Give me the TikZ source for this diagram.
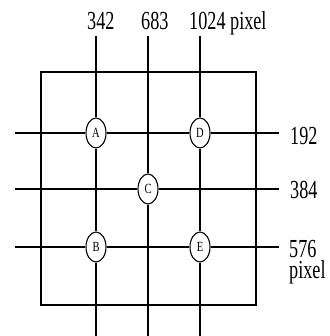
\documentclass[tikz,border=0pt]{standalone}
\usepackage{graphicx}
\usepackage{fontspec}
\setmainfont{Liberation Serif}
\usetikzlibrary{shapes.geometric}
\newcommand\condtxt[1]{\scalebox{0.7}[1]{#1}}
\tikzset{
  grid line/.style={line width=1.1pt, black},
  crossing/.style={draw, line width=1.1pt, ellipse, fill=white, inner sep=0pt,
    minimum width=20pt, minimum height=30pt, font=\fontsize{14}{14}\selectfont},
  coordlabel/.style={inner sep=0pt, font=\fontsize{26}{20}\selectfont},
}
\begin{document}
\begin{tikzpicture}[x=1pt,y=-1pt]
\useasboundingbox (0,0) rectangle (329,336);
% frame
\draw[grid line] (41,72) rectangle (256,305);
% crossings
\node[crossing] (A) at (96,133) {\scalebox{0.75}[1]{A}};
\node[crossing] (D) at (200,133) {\scalebox{0.75}[1]{D}};
\node[crossing] (C) at (148,189) {\scalebox{0.75}[1]{C}};
\node[crossing] (B) at (96,247) {\scalebox{0.75}[1]{B}};
\node[crossing] (E) at (200,247) {\scalebox{0.75}[1]{E}};
% line ends
\coordinate (t1) at (96,36);  \coordinate (b1) at (96,336);
\coordinate (t2) at (148,36); \coordinate (b2) at (148,336);
\coordinate (t3) at (200,36); \coordinate (b3) at (200,336);
\coordinate (l1) at (15,133); \coordinate (r1) at (279,133);
\coordinate (l2) at (15,189); \coordinate (r2) at (279,189);
\coordinate (l3) at (15,247); \coordinate (r3) at (279,247);
% vertical lines
\draw[grid line] (t1) -- (A); \draw[grid line] (A) -- (B); \draw[grid line] (B) -- (b1);
\draw[grid line] (t2) -- (C); \draw[grid line] (C) -- (b2);
\draw[grid line] (t3) -- (D); \draw[grid line] (D) -- (E); \draw[grid line] (E) -- (b3);
% horizontal lines
\draw[grid line] (l1) -- (A); \draw[grid line] (A) -- (D); \draw[grid line] (D) -- (r1);
\draw[grid line] (l2) -- (C); \draw[grid line] (C) -- (r2);
\draw[grid line] (l3) -- (B); \draw[grid line] (B) -- (E); \draw[grid line] (E) -- (r3);
% labels top
\node[coordlabel, anchor=base west] (x1) at (87,30) {\condtxt{342}};
\node[coordlabel, anchor=base west] (x2) at (141,30) {\condtxt{683}};
\node[coordlabel, anchor=base west] (x3) at (189,30) {\condtxt{1024 pixel}};
% labels right
\node[coordlabel, anchor=base west] (y1) at (290,145) {\condtxt{192}};
\node[coordlabel, anchor=base west] (y2) at (290,198) {\condtxt{384}};
\node[coordlabel, anchor=north west, align=left] (y3) at (289,240) {\condtxt{576}\\[1pt]\condtxt{pixel}};
\end{tikzpicture}
\end{document}
